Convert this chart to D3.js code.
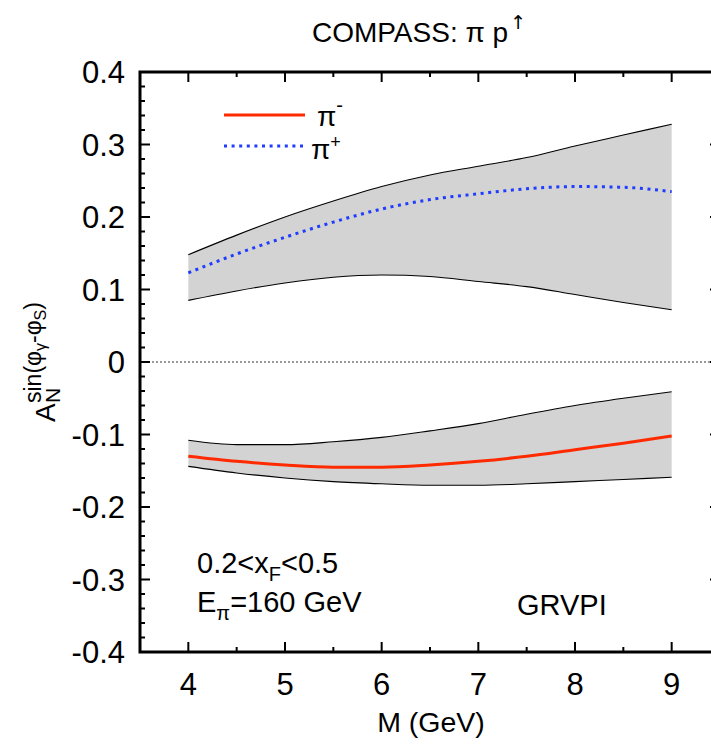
<!DOCTYPE html>
<html>
<head>
<meta charset="utf-8">
<script src="https://cdn.jsdelivr.net/npm/d3@7"></script>
<style>
  html, body { margin: 0; padding: 0; background: #fff; }
  svg { display: block; font-family: "Liberation Sans", Arial, Helvetica, sans-serif; }
</style>
</head>
<body>
<svg id="chart" width="711" height="744"></svg>
<script>
// Invariant mass grid (GeV)
const mass = [4, 4.5, 5, 5.5, 6, 6.5, 7, 7.5, 8, 8.5, 9];

// pi+ asymmetry: central curve and uncertainty band
const piPlus   = [0.123, 0.149, 0.172, 0.193, 0.211, 0.224, 0.232, 0.239, 0.242, 0.241, 0.235];
const piPlusHi = [0.148, 0.175, 0.200, 0.222, 0.242, 0.258, 0.270, 0.282, 0.298, 0.313, 0.328];
const piPlusLo = [0.085, 0.098, 0.109, 0.117, 0.120, 0.118, 0.111, 0.104, 0.093, 0.082, 0.072];

// pi- asymmetry: central curve and uncertainty band
const piMinus   = [-0.130, -0.137, -0.142, -0.145, -0.145, -0.142, -0.137, -0.130, -0.121, -0.112, -0.102];
const piMinusHi = [-0.108, -0.114, -0.114, -0.110, -0.104, -0.095, -0.085, -0.072, -0.060, -0.050, -0.041];
const piMinusLo = [-0.144, -0.153, -0.160, -0.165, -0.168, -0.170, -0.170, -0.168, -0.165, -0.162, -0.159];

// Axis ticks
const xTicks = [4, 5, 6, 7, 8, 9];
const yTicks = [-0.4, -0.3, -0.2, -0.1, 0, 0.1, 0.2, 0.3, 0.4];

const svg = d3.select("#chart");
const plotLeft = 140, plotTop = 72, plotRight = 720, plotBottom = 652;

const x = d3.scaleLinear().domain([3.5, 9.5]).range([plotLeft, plotRight]);
const y = d3.scaleLinear().domain([-0.4, 0.4]).range([plotBottom, plotTop]);

const band = (lo, hi) => d3.area()
  .x((d, i) => x(mass[i]))
  .y0((d, i) => y(lo[i]))
  .y1((d, i) => y(hi[i]))
  .curve(d3.curveMonotoneX)(mass);

const line = vals => d3.line()
  .x((d, i) => x(mass[i]))
  .y((d, i) => y(vals[i]))
  .curve(d3.curveMonotoneX)(mass);

// uncertainty bands
[[piPlusLo, piPlusHi], [piMinusLo, piMinusHi]].forEach(([lo, hi]) => {
  svg.append("path").attr("d", band(lo, hi)).attr("fill", "#d3d3d3").attr("stroke", "none");
  svg.append("path").attr("d", line(hi)).attr("fill", "none").attr("stroke", "#000").attr("stroke-width", 1.1);
  svg.append("path").attr("d", line(lo)).attr("fill", "none").attr("stroke", "#000").attr("stroke-width", 1.1);
});

// zero reference line
svg.append("line")
  .attr("x1", plotLeft).attr("x2", plotRight).attr("y1", y(0)).attr("y2", y(0))
  .attr("stroke", "#000").attr("stroke-width", 0.8).attr("stroke-dasharray", "2,2");

// central curves
svg.append("path").attr("d", line(piPlus)).attr("fill", "none")
  .attr("stroke", "#1f3cff").attr("stroke-width", 3).attr("stroke-dasharray", "3,4.6");
svg.append("path").attr("d", line(piMinus)).attr("fill", "none")
  .attr("stroke", "#ff2a00").attr("stroke-width", 3);

// axes with inward ticks on all four sides
const minorX = d3.range(3.5, 9.51, 0.5).filter(v => Math.abs(v - Math.round(v)) > 1e-6);
const minorY = d3.range(-0.4, 0.401, 0.02).map(v => +v.toFixed(2)).filter(v => !yTicks.some(t => Math.abs(t - v) < 1e-6));

const frame = svg.append("g").attr("stroke", "#000");
const tick = (x1, y1, x2, y2, w) => frame.append("line")
  .attr("x1", x1).attr("y1", y1).attr("x2", x2).attr("y2", y2).attr("stroke-width", w);

xTicks.forEach(v => { tick(x(v), plotBottom, x(v), plotBottom - 10, 2); tick(x(v), plotTop, x(v), plotTop + 10, 2); });
minorX.forEach(v => { tick(x(v), plotBottom, x(v), plotBottom - 5, 2); tick(x(v), plotTop, x(v), plotTop + 5, 2); });
yTicks.forEach(v => { tick(plotLeft, y(v), plotLeft + 10, y(v), 2); tick(plotRight, y(v), plotRight - 10, y(v), 2); });
minorY.forEach(v => { tick(plotLeft, y(v), plotLeft + 5, y(v), 2); tick(plotRight, y(v), plotRight - 5, y(v), 2); });

frame.append("rect")
  .attr("x", plotLeft).attr("y", plotTop).attr("width", plotRight - plotLeft).attr("height", plotBottom - plotTop)
  .attr("fill", "none").attr("stroke-width", 3);

// tick labels (plain hyphen for negative numbers)
svg.append("g").selectAll("text").data(xTicks).join("text")
  .attr("x", d => x(d)).attr("y", 695)
  .attr("text-anchor", "middle").attr("font-size", 31)
  .text(d => d3.format("d")(d));

svg.append("g").selectAll("text").data(yTicks).join("text")
  .attr("x", 125).attr("y", d => y(d) + 11)
  .attr("text-anchor", "end").attr("font-size", 31)
  .text(d => d === 0 ? "0" : d3.format(".1f")(d).replace("\u2212", "-"));

// axis titles
svg.append("text").attr("x", 431).attr("y", 732)
  .attr("text-anchor", "middle").attr("font-size", 28.5).text("M (GeV)");

const yl = svg.append("g").attr("transform", "translate(55,422) rotate(-90)");
yl.append("text").attr("x", 0).attr("y", 0).attr("font-size", 28).text("A");
yl.append("text").attr("x", 19).attr("y", 5).attr("font-size", 21).text("N");
const sup = yl.append("text").attr("x", 19).attr("y", -14).attr("font-size", 23);
sup.append("tspan").text("sin(φ");
sup.append("tspan").attr("font-size", 16).attr("dy", 5).text("γ");
sup.append("tspan").attr("dy", -5).text("-φ");
sup.append("tspan").attr("font-size", 16).attr("dy", 5).text("S");
sup.append("tspan").attr("dy", -5).text(")");

// title
const title = svg.append("text").attr("x", 419).attr("y", 42)
  .attr("text-anchor", "middle").attr("font-size", 28);
title.append("tspan").text("COMPASS: π p");
title.append("tspan").attr("font-family", "'DejaVu Sans'").attr("fill", "#000")
  .attr("font-size", 19).attr("dx", 2).attr("dy", -13).text("\u2191");

// legend
const legend = [
  { label: "π", sign: "-", color: "#ff2a00", dash: null, yy: 115, tx: 317, base: 126, sfs: 20, sdy: -14 },
  { label: "π", sign: "+", color: "#1f3cff", dash: "3,4.6", yy: 146, tx: 311, base: 159, sfs: 18, sdy: -11 }
];
legend.forEach(d => {
  svg.append("line").attr("x1", 224).attr("x2", 305).attr("y1", d.yy).attr("y2", d.yy)
    .attr("stroke", d.color).attr("stroke-width", 3).attr("stroke-dasharray", d.dash);
  const t = svg.append("text").attr("x", d.tx).attr("y", d.base).attr("font-size", 28);
  t.append("tspan").text(d.label);
  t.append("tspan").attr("font-size", d.sfs).attr("dy", d.sdy).text(d.sign);
});

// annotations
const a1 = svg.append("text").attr("x", 197).attr("y", 573).attr("font-size", 29);
a1.append("tspan").text("0.2<x");
a1.append("tspan").attr("font-size", 20).attr("dy", 8).text("F");
a1.append("tspan").attr("dy", -8).text("<0.5");

const a2 = svg.append("text").attr("x", 197).attr("y", 612).attr("font-size", 29);
a2.append("tspan").text("E");
a2.append("tspan").attr("font-size", 20).attr("dy", 8).text("π");
a2.append("tspan").attr("dy", -8).text("=160 GeV");

svg.append("text").attr("x", 517).attr("y", 615).attr("font-size", 29).text("GRVPI");
</script>
</body>
</html>
